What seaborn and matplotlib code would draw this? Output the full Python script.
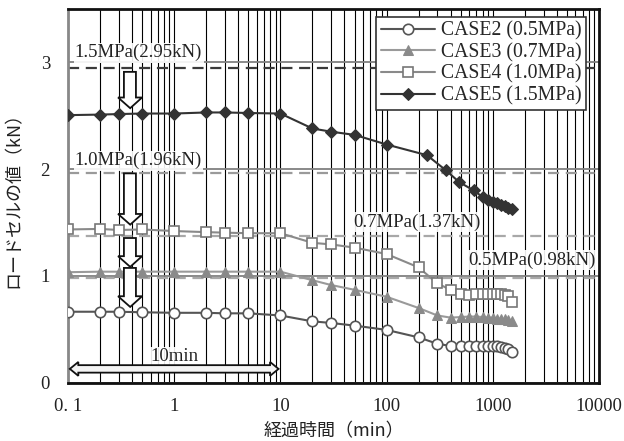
import numpy as np
import pandas as pd
import seaborn as sns
import matplotlib
matplotlib.use("Agg")
import matplotlib.pyplot as plt
from matplotlib.patches import Polygon

sns.set_theme(style="white")
plt.rcParams['font.family'] = ['Liberation Serif', 'Noto Sans CJK JP', 'DejaVu Sans']

# elapsed time (min)
t_early = [0.1, 0.2, 0.3, 0.5, 1, 2, 3, 5, 10, 20, 30, 50, 100]
t_late = [200, 300, 400, 500, 600, 700, 800, 900, 1000, 1100, 1200, 1300, 1400, 1500]
t_late5 = [240, 360, 480, 660, 800, 900, 1000, 1100, 1200, 1300, 1400, 1500]

# load cell values (kN)
case2 = [0.665, 0.665, 0.665, 0.66, 0.655, 0.655, 0.65, 0.65, 0.63, 0.575, 0.56, 0.535, 0.495,
         0.425, 0.365, 0.345, 0.34, 0.34, 0.34, 0.34, 0.34, 0.34, 0.34, 0.335, 0.33, 0.32, 0.29]
case3 = [1.035, 1.04, 1.04, 1.04, 1.04, 1.04, 1.04, 1.04, 1.04, 0.96, 0.915, 0.87, 0.805,
         0.70, 0.63, 0.61, 0.615, 0.62, 0.62, 0.615, 0.61, 0.61, 0.60, 0.60, 0.595, 0.59, 0.575]
case4 = [1.435, 1.44, 1.43, 1.435, 1.42, 1.41, 1.405, 1.40, 1.40, 1.31, 1.295, 1.265, 1.205,
         1.08, 0.93, 0.87, 0.83, 0.82, 0.83, 0.83, 0.83, 0.83, 0.83, 0.83, 0.82, 0.81, 0.76]
case5 = [2.505, 2.51, 2.515, 2.52, 2.52, 2.53, 2.53, 2.525, 2.52, 2.38, 2.35, 2.32, 2.23,
         2.13, 1.99, 1.88, 1.80, 1.74, 1.71, 1.69, 1.68, 1.66, 1.65, 1.64, 1.63]

# target loads
ref_vals = [2.95, 1.96, 1.37, 0.98]
ref_labels = ['1.5MPa(2.95kN)', '1.0MPa(1.96kN)', '0.7MPa(1.37kN)', '0.5MPa(0.98kN)']
ref_colors = ['#3a3a3a', '#9a9a9a', '#a8a8a8', '#a8a8a8']
ref_label_pos = [(0.116, 3.09), (0.116, 2.08), (48, 1.505), (583, 1.15)]

# loading arrows (top of shaft, tip)
arrow_spans = [(2.91, 2.57), (1.96, 1.48), (1.355, 1.085), (1.075, 0.71)]

xtick_vals = [0.1, 1, 10, 100, 1000, 10000]
xtick_labels = ['0. 1', '1', '10', '100', '1000', '10000']

fig, ax = plt.subplots(figsize=(6.24, 4.41), dpi=100)
fig.subplots_adjust(left=0.109, right=0.96, bottom=0.132, top=0.98)

series = [
    ('CASE2 (0.5MPa)', t_early + t_late, case2, dict(color='#555555', marker='o', markerfacecolor='white',
                                                     markeredgecolor='#555555', markersize=7.5, mew=1.2)),
    ('CASE3 (0.7MPa)', t_early + t_late, case3, dict(color='#9a9a9a', marker='^', markerfacecolor='#8a8a8a',
                                                     markeredgecolor='#8a8a8a', markersize=7.5)),
    ('CASE4 (1.0MPa)', t_early + t_late, case4, dict(color='#8a8a8a', marker='s', markerfacecolor='white',
                                                     markeredgecolor='#777777', markersize=7.5, mew=1.2)),
    ('CASE5 (1.5MPa)', t_early + t_late5, case5, dict(color='#333333', marker='D', markerfacecolor='#333333',
                                                      markeredgecolor='#333333', markersize=6.5)),
]

# reference lines
for v, c in zip(ref_vals, ref_colors):
    ax.axhline(v, color=c, ls=(0, (5, 3)), lw=1.6, zorder=2)

for name, t, y, kw in series:
    df = pd.DataFrame({'t': t, 'y': y})
    sns.lineplot(data=df, x='t', y='y', ax=ax, label=name, estimator=None, sort=False,
                 linewidth=1.5, zorder=5, **kw)

ax.set_xscale('log')
ax.set_xlim(0.1, 10000)
ax.set_ylim(0, 3.5)

ax.grid(True, which='both', axis='x', color='black', lw=0.8, zorder=1)
ax.set_yticks([0, 1, 2, 3])
ax.grid(True, which='major', axis='y', color='#808080', lw=1.3, zorder=1)
ax.set_axisbelow(True)

ax.set_xticks(xtick_vals)
ax.set_xticklabels(xtick_labels)
ax.tick_params(axis='both', which='both', length=0, labelsize=13.5, colors='#222222')
ax.tick_params(axis='x', pad=11)
ax.tick_params(axis='y', pad=13)

for s in ['top', 'right', 'bottom']:
    ax.spines[s].set_color('#111111')
    ax.spines[s].set_linewidth(2)
ax.spines['left'].set_color('#888888')
ax.spines['left'].set_linewidth(2)

ax.set_xlabel('経過時間（min）', family=['Noto Sans CJK JP'], fontsize=13, color='#222222', labelpad=5)
ax.set_ylabel('ロードセルの値（kN）', family=['Noto Sans CJK JP'], fontsize=13, color='#222222', labelpad=13)

for lab, (x, y) in zip(ref_labels, ref_label_pos):
    ax.text(x, y, lab, fontsize=13.5, color='#222222', va='center', ha='left', zorder=4,
            bbox=dict(fc='white', ec='none', pad=1, alpha=0.9))

# hollow downward arrows
xs0, xs1, xh0, xh1 = 0.336, 0.436, 0.296, 0.498
for top, tip in arrow_spans:
    hb = tip + 0.1
    pts = [(xs0, top), (xs1, top), (xs1, hb), (xh1, hb), (0.385, tip), (xh0, hb), (xs0, hb)]
    ax.add_patch(Polygon(pts, closed=True, fc='white', ec='#111111', lw=1.3, zorder=6))

# 10 min double arrow
ya, hs, hh = 0.13, 0.035, 0.065
l, r = 0.104, 9.6
lh, rh = l * 10 ** 0.08, r / 10 ** 0.08
pts = [(l, ya), (lh, ya + hh), (lh, ya + hs), (rh, ya + hs), (rh, ya + hh), (r, ya),
       (rh, ya - hh), (rh, ya - hs), (lh, ya - hs), (lh, ya - hh)]
ax.add_patch(Polygon(pts, closed=True, fc='#f4f4f4', ec='#111111', lw=1.3, zorder=6))
ax.text(1.0, 0.245, '10min', fontsize=13.5, color='#222222', ha='center', va='center', zorder=4,
        bbox=dict(fc='white', ec='none', pad=1, alpha=0.9))

leg = ax.legend(loc='upper right', bbox_to_anchor=(0.983, 0.99), fontsize=14.2, frameon=True,
                fancybox=False, edgecolor='#333333', framealpha=1, handlelength=2.7,
                borderpad=0.25, labelspacing=0.12, handletextpad=0.3, borderaxespad=0.2)
leg.get_frame().set_linewidth(1.2)
leg.set_zorder(10)

fig.savefig('out.png', dpi=100)
